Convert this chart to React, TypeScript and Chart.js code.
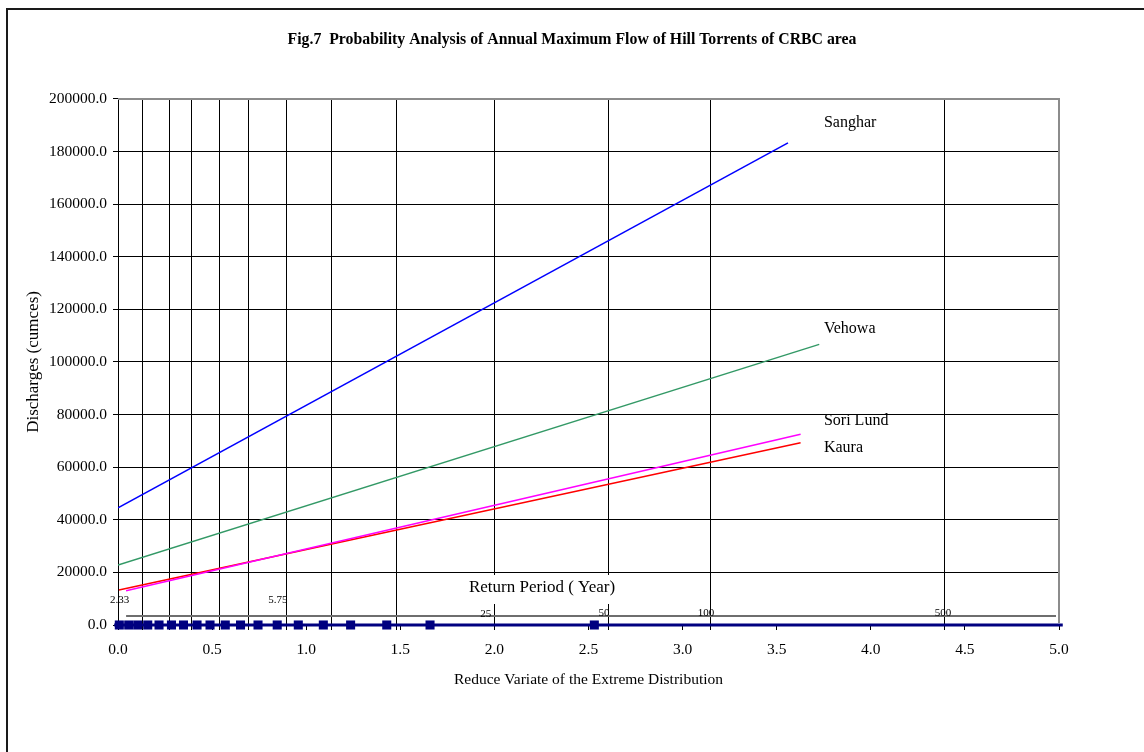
import React, { useEffect, useRef } from "react";
import { Chart, registerables } from "chart.js";

Chart.register(...registerables);

const FONT = "'Liberation Serif', 'Times New Roman', serif";

const chartTitle = "Fig.7  Probability Analysis of Annual Maximum Flow of Hill Torrents of CRBC area";
const xTitle = "Reduce Variate of the Extreme Distribution";
const yTitle = "Discharges (cumces)";

// Fitted lines (reduced variate, discharge)
const seriesNames = ["Sanghar", "Vehowa", "Sori Lund", "Kaura"];
const seriesColors = ["#0000ff", "#339966", "#ff00ff", "#ff0000"];
const sangharX = [0, 3.56];
const sangharY = [44500, 183300];
const vehowaX = [0, 3.726];
const vehowaY = [22800, 106700];
const soriLundX = [0.043, 3.627];
const soriLundY = [13000, 72500];
const kauraX = [0.005, 3.627];
const kauraY = [13300, 69300];

// Series name labels
const seriesLabelX = [3.751, 3.751, 3.751, 3.751];
const seriesLabelY = [190900, 112500, 77600, 67300];

// Return-period grid lines (reduced variate positions)
const returnGridX = [0.005, 0.129, 0.273, 0.393, 0.538, 0.692, 0.893, 1.135, 1.479, 2.002, 2.605, 3.149, 4.394];

// Observed points plotted on the base line
const markerX = [0.007, 0.057, 0.105, 0.158, 0.218, 0.284, 0.348, 0.42, 0.489, 0.57, 0.651, 0.744, 0.846, 0.958, 1.091, 1.236, 1.428, 1.658, 2.531];
const markerY = 0;
const baseLineX = [-0.02, 5.02];

// Return period scale
const rpLineX = [0.043, 4.984];
const rpLineY = 3420;
const rpLabels = ["2.33", "5.75", "25", "50", "100", "500"];
const rpLabelX = [0.008, 0.85, 1.954, 2.582, 3.124, 4.384];
const rpLabelY = [9506, 9506, 4183, 4563, 4563, 4563];
const rpTitle = "Return Period ( Year)";
const rpTitleX = 2.253;
const rpTitleY = 14070;

const xMin = 0, xMax = 5, xStep = 0.5;
const yMin = 0, yMax = 200000, yStep = 20000;

const zip = (xs: number[], ys: number[]) => xs.map((x, i) => ({ x, y: ys[i] }));

const framePlugin = {
  id: "frame",
  beforeDraw(chart: any) {
    const { ctx, width, height } = chart;
    ctx.save();
    ctx.fillStyle = "#fff";
    ctx.fillRect(0, 0, width, height);
    ctx.strokeStyle = "#1a1a1a";
    ctx.lineWidth = 2;
    ctx.beginPath();
    ctx.moveTo(7, height);
    ctx.lineTo(7, 9);
    ctx.lineTo(width, 9);
    ctx.stroke();
    ctx.restore();
  },
};

const annotationPlugin = {
  id: "annotations",
  afterDatasetsDraw(chart: any) {
    const { ctx, chartArea, scales } = chart;
    const x = scales.x, y = scales.y;
    ctx.save();
    // plot frame top/right
    ctx.strokeStyle = "#8c8c8c";
    ctx.lineWidth = 2;
    ctx.beginPath();
    ctx.moveTo(chartArea.left, chartArea.top);
    ctx.lineTo(chartArea.right, chartArea.top);
    ctx.lineTo(chartArea.right, chartArea.bottom - 2);
    ctx.stroke();

    ctx.fillStyle = "#000";
    ctx.font = `16px ${FONT}`;
    ctx.textAlign = "left";
    ctx.textBaseline = "middle";
    seriesNames.forEach((n, i) => {
      ctx.fillText(n, x.getPixelForValue(seriesLabelX[i]), y.getPixelForValue(seriesLabelY[i]));
    });
    ctx.font = `11px ${FONT}`;
    ctx.textAlign = "center";
    rpLabels.forEach((t, i) => {
      ctx.fillText(t, x.getPixelForValue(rpLabelX[i]), y.getPixelForValue(rpLabelY[i]));
    });
    ctx.font = `17px ${FONT}`;
    const tx = x.getPixelForValue(rpTitleX);
    const ty = y.getPixelForValue(rpTitleY);
    const w = ctx.measureText(rpTitle).width;
    ctx.fillStyle = "#fff";
    ctx.fillRect(tx - w / 2 - 5, ty - 13, w + 10, 29);
    ctx.fillStyle = "#000";
    ctx.fillText(rpTitle, tx, ty);
    ctx.restore();
  },
};

export default function App() {
  const ref = useRef<HTMLCanvasElement | null>(null);

  useEffect(() => {
    if (!ref.current) return;
    Chart.defaults.font.family = FONT;
    Chart.defaults.color = "#000";

    const seriesData = [
      zip(sangharX, sangharY),
      zip(vehowaX, vehowaY),
      zip(soriLundX, soriLundY),
      zip(kauraX, kauraY),
    ];

    const datasets: any[] = [];
    seriesNames.forEach((name, i) => {
      datasets.push({
        label: name,
        data: seriesData[i],
        borderColor: seriesColors[i],
        backgroundColor: seriesColors[i],
        borderWidth: 1.5,
        pointRadius: 0,
        order: 2,
      });
    });
    datasets.push({
      label: "rp-scale",
      data: rpLineX.map((v) => ({ x: v, y: rpLineY })),
      borderColor: "#6e6e6e",
      borderWidth: 2,
      pointRadius: 0,
      order: 9,
    });
    datasets.push({
      label: "base",
      data: baseLineX.map((v) => ({ x: v, y: markerY })),
      borderColor: "#000080",
      borderWidth: 3,
      pointRadius: 0,
      clip: false,
      order: 1,
    });
    datasets.push({
      label: "points",
      data: markerX.map((v) => ({ x: v, y: markerY })),
      showLine: false,
      pointStyle: "rect",
      pointRadius: 6.4,
      backgroundColor: "#000080",
      borderColor: "#000080",
      borderWidth: 0,
      clip: false,
      order: 0,
    });

    const chart = new Chart(ref.current, {
      type: "line",
      data: { datasets },
      plugins: [framePlugin, annotationPlugin],
      options: {
        animation: false,
        responsive: false,
        devicePixelRatio: 1,
        layout: { padding: 0 },
        plugins: {
          legend: { display: false },
          tooltip: { enabled: false },
          title: {
            display: true,
            text: chartTitle,
            color: "#000",
            font: { family: FONT, size: 15.8, weight: "bold" },
            padding: { top: 30.5, bottom: 49.5 },
          },
        },
        scales: {
          x: {
            type: "linear",
            min: xMin,
            max: xMax,
            ticks: {
              stepSize: xStep,
              callback: (v: any) => Number(v).toFixed(1),
              font: { family: FONT, size: 15.5 },
              color: "#000",
              padding: 10.5,
              maxRotation: 0,
            },
            grid: { drawOnChartArea: false, drawTicks: true, tickLength: 5, color: "#000" },
            border: { color: "#000", width: 1 },
            title: {
              display: true,
              text: xTitle,
              color: "#000",
              font: { family: FONT, size: 15.5 },
              padding: { top: 0, bottom: 62.7 },
            },
            afterFit: (s: any) => {
              s.height = 127;
            },
          },
          xReturn: {
            type: "linear",
            position: { y: 0 },
            min: xMin,
            max: xMax,
            ticks: { display: false },
            afterBuildTicks: (s: any) => {
              s.ticks = returnGridX.map((v) => ({ value: v }));
            },
            grid: { drawOnChartArea: true, drawTicks: true, tickLength: 5, color: "#000", lineWidth: 1 },
            border: { display: false },
          },
          y: {
            type: "linear",
            min: yMin,
            max: yMax,
            ticks: {
              stepSize: yStep,
              callback: (v: any) => Number(v).toFixed(1),
              font: { family: FONT, size: 15.5 },
              color: "#000",
              padding: 6,
            },
            grid: { color: "#000", lineWidth: 1, tickLength: 5 },
            border: { color: "#000", width: 1 },
            title: {
              display: true,
              text: yTitle,
              color: "#000",
              font: { family: FONT, size: 17 },
              padding: { top: 23.3, bottom: 0 },
            },
            afterFit: (s: any) => {
              s.width = 118;
            },
          },
          yRight: {
            type: "linear",
            position: "right",
            min: yMin,
            max: yMax,
            ticks: { display: false },
            grid: { display: false, drawTicks: false },
            border: { display: false },
            afterFit: (s: any) => {
              s.width = 85;
            },
          },
        },
      } as any,
    });
    return () => chart.destroy();
  }, []);

  return (
    <div
      style={{
        position: "fixed",
        left: 0,
        top: 0,
        width: 1144,
        height: 752,
        background: "#fff",
      }}
    >
      <canvas ref={ref} width={1144} height={752} style={{ display: "block" }} />
    </div>
  );
}
